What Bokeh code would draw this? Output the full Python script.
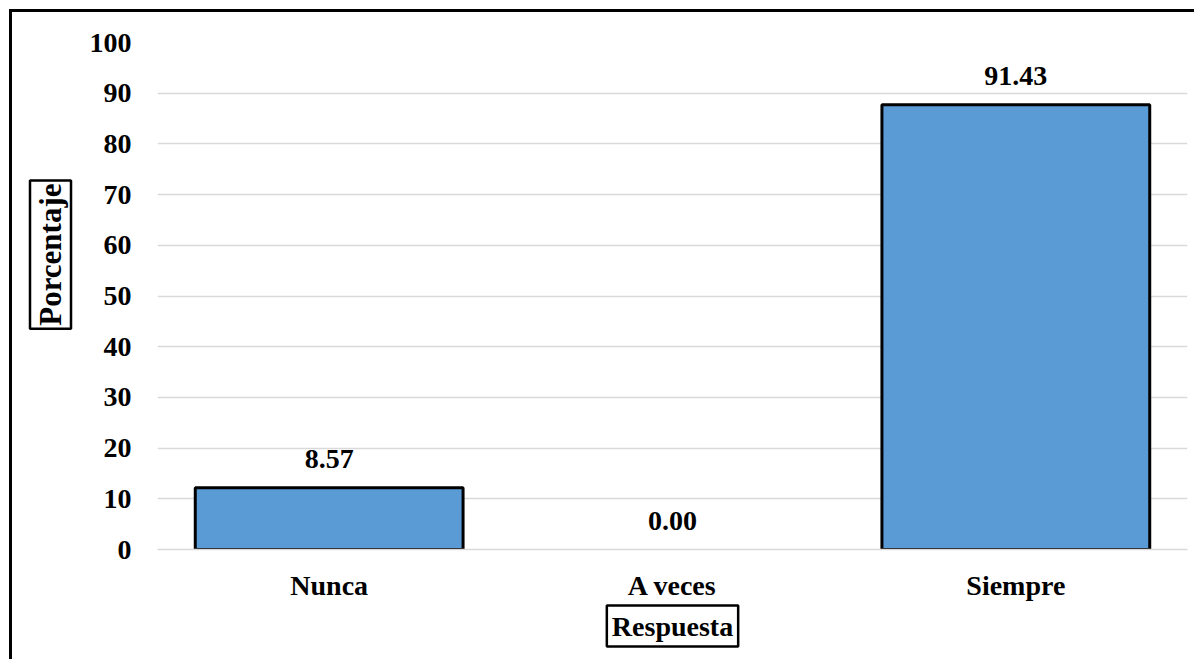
from bokeh.plotting import figure
from bokeh.models import ColumnDataSource, FixedTicker, Title, CDSView, BooleanFilter
from bokeh.core.properties import value
from bokeh.embed import file_html
from bokeh.resources import INLINE

categories = ["Nunca", "A veces", "Siempre"]
bar_heights = [12.2, 0.0, 87.7]
value_labels = ["8.57", "0.00", "91.43"]
y_ticks = [0, 10, 20, 30, 40, 50, 60, 70, 80, 90, 100]
y_title = "Porcentaje"
x_title = "Respuesta"

FONT = "Liberation Serif"

src = ColumnDataSource(dict(cat=categories, h=bar_heights, lab=value_labels))
nonzero = CDSView(filter=BooleanFilter([h > 0 for h in bar_heights]))

p = figure(x_range=categories, y_range=(0, 100), width=1185, height=650,
           output_backend="svg", toolbar_location=None,
           min_border_left=144, min_border_right=10, min_border_top=30, min_border_bottom=113,
           styles={"border-left": "3px solid black", "border-top": "3px solid black",
                   "margin-left": "9px", "margin-top": "9px"})
p.x_range.range_padding = 0
p.outline_line_color = None
p.background_fill_color = "white"
p.border_fill_color = "white"

p.vbar(x="cat", top="h", bottom=0, width=0.78, source=src, view=nonzero,
       fill_color="#5b9bd5", line_color="black", line_width=3)

p.text(x="cat", y="h", text="lab", source=src, text_align="center",
       text_baseline="middle", y_offset=-29, text_font=value(FONT),
       text_font_style="bold", text_font_size="28px", text_color="black")

p.yaxis.ticker = FixedTicker(ticks=y_ticks)
p.ygrid.ticker = FixedTicker(ticks=y_ticks)
p.ygrid.grid_line_color = "#d9d9d9"
p.ygrid.grid_line_width = 1.5
p.xgrid.grid_line_color = None

for ax in (p.xaxis, p.yaxis):
    ax.major_label_text_font = FONT
    ax.major_label_text_font_style = "bold"
    ax.major_label_text_font_size = "28px"
    ax.major_label_text_color = "black"
    ax.major_tick_line_color = None
    ax.minor_tick_line_color = None

p.yaxis.axis_line_color = None
p.xaxis.axis_line_color = "#d9d9d9"
p.xaxis.axis_line_width = 1.5
p.yaxis.major_label_standoff = 20
p.xaxis.major_label_standoff = 14

ty = Title(text=y_title, align="right", offset=138, standoff=31, padding=3,
           text_font=FONT, text_font_style="bold", text_font_size="31px", text_color="black",
           border_line_color="black", border_line_width=2.5, background_fill_color="white")
p.add_layout(ty, "left")
tx = Title(text=x_title, align="center", standoff=0, padding=5,
           text_font=FONT, text_font_style="bold", text_font_size="28px", text_color="black",
           border_line_color="black", border_line_width=2.5, background_fill_color="white")
p.add_layout(tx, "below")

open("out.html", "w").write(file_html(p, INLINE))
